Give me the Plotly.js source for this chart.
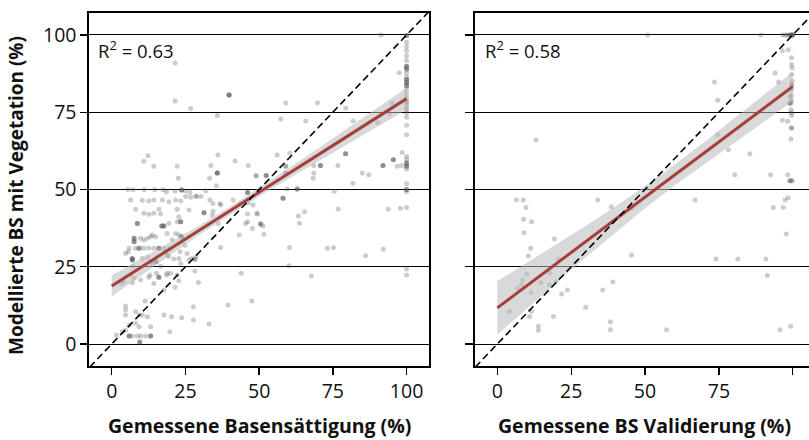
<!DOCTYPE html>
<html>
<head>
<meta charset="utf-8">
<script src="https://cdn.plot.ly/plotly-3.0.1.min.js"></script>
<style>html,body{margin:0;padding:0;background:#fff;}#chart{width:809px;height:440px;}</style>
</head>
<body>
<div id="chart"></div>
<script>
// ---- data: [measured, modelled, (count of overlapping observations)] ----
const leftPoints = [
  [21.5,90.9],[21.5,78.6],[26.8,76.2],[39.8,80.6,4],[35.8,73.9],
  [12.3,60.9],[10.9,59.1],[14.3,57.5],[22.2,57.5],[22.6,53.6],[36,61.2],[33.6,57.8],[35.8,55.3,4],[33.2,53.6],[41.8,59.2],[46.3,57.8],[49,54.5],[35.5,51.2],
  [91.3,100],[97.5,87.8],[59,78],[69.8,78.1],[79.4,76.3],[95,78],[94.2,74.6],[57.3,72.8],[65.8,72.2],[81.9,72.2],[90.2,71.6],
  [56.1,61.2],[60.4,61.7],[79.3,61.6,3],[98.5,62],[95.5,59.6,3],[92,57.8,3],[96.8,57.5],[98.3,57.8],[68.5,57.8],[70.8,57.8,3],[68.5,55.3],[68.3,53.6],[76.7,57.8],[85,55.3],[87.2,54.8],[81.8,52],
  [59,57.5,2],[59,55.3,2],[52.4,54.5,3],[48.9,54.4],[59.5,50.2],[62.9,50.2,3],[75.5,49.4],[76.8,43.7],[93.8,43.6],[97.9,43.9],[58.1,47.2,3],
  [63.3,41.4],[65.4,42.8],[63.7,39.1],[50.5,38.8,3],[51.3,38.2],[51.6,35.5],[60.3,31.2],[73.1,31],[75.2,31.2],[86.1,28.6],[92.1,30.7],[60.1,25.3],[67.7,22],[46.1,49,3],[49.2,42.3],
  [100,99.8,3],[100,97.6],[100,96.3],[100,94.9],[100,93.3],[100,91.7],[100,89.9,3],[100,89,3],[100,87.7],[100,86.4],[100,85.5,3],[100,84.5,3],[100,83.6,3],[100,82.3],[100,80.9],[100,79.6],[100,78.5],[100,77.8],[100,76.7],[100,75.8],[100,74.8],[100,73.4],[100,70.8],[100,67.7],[100,60.7],[100,59.6],[100,58.6,3],[100,57.5,3],[100,56.6],[100,51.9],[100,50,3],[100,49.3],[100,44.2],[100,24.3],[100,22.3],
  [5.5,50],[7.2,49.9],[11,49.9],[14.6,49.9],[17.4,49.9],[18.6,49.2],[21.5,49.5],[23.7,49.8,3],[25,49.5],[26.5,49],[28.8,47.7],[31.9,49.6],
  [6.4,46.6],[10.4,46.5],[12.6,46.3],[14.3,46.6],[17.2,46.6],[19.4,46],[21.7,46.6],[23.4,46.3],[25.1,47.7],[26.8,47.5],[28.5,47.9],[30.3,47.7],[33.3,46.6],[34.3,45.5],[36.7,45.5],[37,45],[41.2,46.6],[43.7,45.5],[46.3,45.7],[47.9,45],
  [8.1,43.6],[10.9,42.3],[12.6,42],[14.3,42.3],[16,43.6],[16.6,42.1],[22.2,43.6],[26.2,43.4],[31.3,42.5,3],[34.1,41.7],[34.4,43],[22.8,41.2],[46,42.1],[49.4,42.1],
  [8.7,39,3],[17,38.2,3],[17.7,38.2,3],[19.4,39],[23.4,39.6,3],[22.2,39.6],[36.1,39],[45.4,39],[47.7,37.4],[46.1,39.6],
  [7.6,34.2,3],[7.6,33.1,3],[9.8,34.2],[10.9,33.7],[12.1,34.2],[13.2,34.7],[13.8,35.3],[14.9,34.7],[18.8,35.8],[21.7,35.8],[20.5,33.7],[22.8,35.3],[23.7,34.7,3],[43.2,35.3],
  [5.9,31],[8.1,31],[9.3,31,3],[10.9,31],[12.6,31],[14.3,31],[16,31,3],[17.7,31],[19.8,31],[24.8,32],[36.9,31.2],
  [18.3,29.9],[18.8,28.8],[4.7,29.3],[5.6,29.9],[25.6,29.3],[23.2,29.9],[27.1,27.7],[28.2,27.4,2],[21.1,27.5],[19.4,28.3],
  [7,27.7,3],[7,27.2,3],[10.4,27.7],[12.1,28.2],[13.2,26.6],[15,26.6,3],[22.8,27.7],[26.2,27.2],[28.5,28.2],[23.4,26.1],[13.8,25.7],[16.6,25.2],[7.3,25.2],
  [18.8,22.9],[20,22.9],[22.2,22.3],[16,21.6,3],[12.6,21.6],[9.8,20.7],[7.6,21.3],[6.4,22.3],[7,19.8],[4.2,20.2],[14.3,19.6],[17.7,17.5],[21.5,18.4],[22.8,20.5],[28.2,23.6],[29.4,19.9],[43.9,22.9],[15.2,22.9],[18.6,22.3],[3.4,19.6],[13,22.3],
  [27.7,12.1],[20.3,8.8],[23.7,8.5],[27.7,7.8],[17.7,9.4],[19.7,4],[33,6.5],[39.5,12.6],[47.5,13.9],[11.3,13.9],[4.7,12.3],[4.7,11],[4.7,9.4],[8.1,10.5],[9.3,9.4],[10.4,9.4],[12.1,8.8],[5.9,6.1],[8.1,6.7],[9.3,5.6],[4.7,4.5],[3.6,4],[5.9,2.6,3],[7,2.6],[8.7,2.6],[9.8,2.6],[11.5,2.6],[13.2,2.6,3],[9.5,0.7,3],[13.2,5.6],[1.6,2.9]
];

const rightPoints = [
  [50.9,100],[89.2,100],[96.6,100],[97.5,100],[98.3,100],[99,100,2],[99.6,100,3],[100,100,3],
  [96.5,94.9],[98.5,95.2],
  [99.6,92.6],[99.6,90.4],[99.8,89.3],[99.6,87.2],[99.8,85],[99.6,83.9,2],[99.6,82.3],[99.6,80.4],[99.6,78.9],[99.3,78,2],[98.9,77.8],[99,80.2],[99.4,75.8],[99.6,74.8],[99.6,73.9],
  [94,87.7],[95.2,84.8],[73.5,84.8],[74.6,78.9],
  [96.5,72.4],[98.3,72.1],[99.6,69.9,2],[99.4,66.3],
  [74.6,67.7],[78.2,62.9],[85.5,61.6],
  [80.4,54.8],[92.5,54.8],[98.3,54.8],[99,52.8,2],[99.7,52.8,2],
  [13.1,66],
  [6.5,46.6],[8.8,46.6],[9.7,44.2],[34,46.6],[38.6,44.4],[45.3,43.9],[66.9,46.6],[93.4,44.2],[96.8,44.2],[97.4,46.6],[98.5,47.3],
  [8.9,40.4],[11.6,39.6],[9,36],[19.3,34],[11.3,31],[10.5,28.5],[20.7,27.5],[45.4,28.8],[74,27.5],[81.4,27.5],[90.9,27.5],[91.4,22.2],[97.8,35.6],
  [10,22.7],[8.6,20.7],[6.8,18],[8.2,19.1],[14.7,19.9],[17.8,22.9],[17.6,19.1],[19.9,20.2],[11.4,16.7],[21.8,16.2],[23.7,17.5],[39.1,20.1],[35.7,17.5],
  [4.1,10.5],[11.6,10.6],[10.9,8.8],[19,8.9],[29.9,11.9],[13.9,5.8],[13.9,4.5],[38.3,7.2],[38.3,4.6],[57.3,4.6],[95.7,4.6],[99.3,5.8]
];

// regression fits and confidence bands
const fitX = [0,10,20,30,40,50,60,70,80,90,100];
const leftFit   = [18.8,24.9,30.9,37.0,43.0,49.1,55.2,61.2,67.3,73.3,79.4];
const leftUpper = [22.2,27.6,32.9,38.5,44.3,50.5,56.9,63.3,69.8,76.3,82.9];
const leftLower = [15.4,22.2,28.9,35.5,41.7,47.7,53.5,59.1,64.8,70.3,75.9];
const rightFit   = [11.7,18.9,26.0,33.2,40.3,47.5,54.7,61.8,69.0,76.1,83.3];
const rightUpper = [20.3,26.3,32.2,38.3,44.5,51.1,58.1,65.3,72.9,80.4,88.0];
const rightLower = [3.1,11.5,19.8,28.1,36.1,43.9,51.3,58.3,65.1,71.8,78.6];
const oneToOne = [-10,110];
const tickVals = [0,25,50,75,100];
const tickText = ['0','25','50','75','100'];
const r2Left = '0.63', r2Right = '0.58';
const xTitleLeft = 'Gemessene Basensättigung (%)';
const xTitleRight = 'Gemessene BS Validierung (%)';
const yTitle = 'Modellierte BS mit Vegetation (%)';

function expand(pts){
  const xs=[], ys=[];
  pts.forEach(p=>{const n=p[2]||1; for(let i=0;i<n;i++){xs.push(p[0]); ys.push(p[1]);}});
  return {xs, ys};
}
const L = expand(leftPoints), R = expand(rightPoints);

const FONT = '"Open Sans", "DejaVu Sans", sans-serif';
const marker = {size:5, color:'rgba(85,85,85,0.3)', line:{width:0}};
function panel(xs, ys, up, lo, fit, xa, ya){
  return [
    {x:xs, y:ys, type:'scatter', mode:'markers', marker:marker, xaxis:xa, yaxis:ya, hoverinfo:'skip'},
    {x:fitX.concat(fitX.slice().reverse()), y:up.concat(lo.slice().reverse()), type:'scatter', mode:'lines',
     fill:'toself', fillcolor:'rgba(185,185,185,0.55)', line:{width:0}, xaxis:xa, yaxis:ya, hoverinfo:'skip'},
    {x:fitX, y:fit, type:'scatter', mode:'lines', line:{color:'#a3403f', width:3}, xaxis:xa, yaxis:ya},
    {x:oneToOne, y:oneToOne, type:'scatter', mode:'lines', line:{color:'#000', width:1.6, dash:'7px,4px'}, xaxis:xa, yaxis:ya}
  ];
}
const data = panel(L.xs, L.ys, leftUpper, leftLower, leftFit, 'x', 'y')
  .concat(panel(R.xs, R.ys, rightUpper, rightLower, rightFit, 'x2', 'y2'));

const axBase = {tickvals:tickVals, ticktext:tickText, ticks:'outside', ticklen:7, tickwidth:1.3, tickcolor:'#000',
  showline:true, linecolor:'#000', linewidth:1.6, zeroline:false, tickfont:{family:FONT, size:19.5, color:'#111'}};

const layout = {
  width:809, height:440, margin:{l:0, r:0, t:13, b:74}, showlegend:false,
  paper_bgcolor:'#fff', plot_bgcolor:'#fff', font:{family:FONT, color:'#111'},
  xaxis: Object.assign({}, axBase, {domain:[89/809, 429/809], range:[-7.7,107.6], mirror:true, showgrid:false, fixedrange:true}),
  yaxis: Object.assign({}, axBase, {range:[-7.1,107.1], mirror:true, showgrid:true, gridcolor:'#000', gridwidth:1, fixedrange:true}),
  xaxis2: Object.assign({}, axBase, {domain:[475/809, 1], range:[-7.55,105.5], anchor:'y2', mirror:true, showgrid:false}),
  yaxis2: Object.assign({}, axBase, {range:[-7.1,107.1], anchor:'x2', showticklabels:false, ticklen:8, showgrid:true, gridcolor:'#000', gridwidth:1}),
  annotations:[
    {xref:'paper', yref:'paper', x:96/809, y:(366-49)/353, xanchor:'left', yanchor:'middle', showarrow:false,
     text:'R<sup>2</sup> = '+r2Left, font:{family:FONT, size:18.5, color:'#111'}},
    {xref:'paper', yref:'paper', x:483/809, y:(366-49)/353, xanchor:'left', yanchor:'middle', showarrow:false,
     text:'R<sup>2</sup> = '+r2Right, font:{family:FONT, size:18.5, color:'#111'}},
    {xref:'paper', yref:'paper', x:259/809, y:(366-426)/353, xanchor:'center', yanchor:'middle', showarrow:false,
     text:'<b>'+xTitleLeft+'</b>', font:{family:FONT, size:19.5, color:'#111'}},
    {xref:'paper', yref:'paper', x:644/809, y:(366-426)/353, xanchor:'center', yanchor:'middle', showarrow:false,
     text:'<b>'+xTitleRight+'</b>', font:{family:FONT, size:19.5, color:'#111'}},
    {xref:'paper', yref:'paper', x:16/809, y:(366-196)/353, xanchor:'center', yanchor:'middle', showarrow:false, textangle:-90,
     text:'<b>'+yTitle+'</b>', font:{family:FONT, size:19, color:'#111'}}
  ]
};
Plotly.newPlot('chart', data, layout, {displayModeBar:false, staticPlot:true});
</script>
</body>
</html>
